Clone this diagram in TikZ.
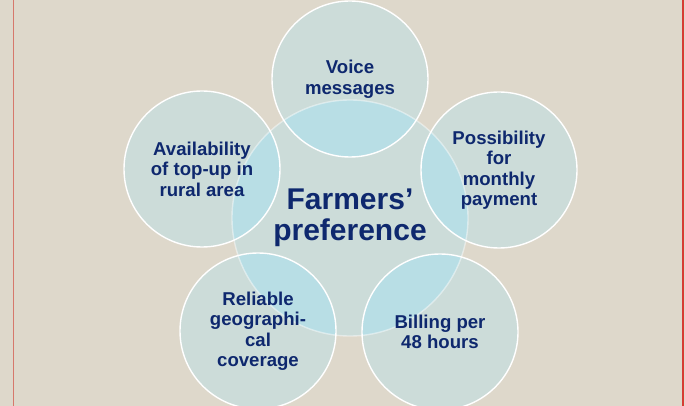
\documentclass[tikz,border=0pt]{standalone}
\usepackage{fontspec}
\setmainfont{Liberation Sans}
\usepackage{xcolor}
\usepackage{tikz}

\definecolor{paper}{RGB}{222,216,203}
\definecolor{petalgrey}{RGB}{204,220,217}
\definecolor{petalblue}{RGB}{184,222,229}
\definecolor{inknavy}{RGB}{14,40,110}
\definecolor{rulepink}{RGB}{214,120,108}
\definecolor{rulered}{RGB}{214,60,52}

\begin{document}
\begin{tikzpicture}[
  x=1pt, y=-1pt,
  petal_node/.style={circle, minimum size=156pt, draw=white, line width=1.4pt, text=inknavy, font=\bfseries\fontsize{18.6}{20.5}\selectfont, align=center},
  hub_node/.style={circle, minimum size=236pt, draw=white, draw opacity=0.45, line width=1.4pt, text=inknavy, font=\bfseries\fontsize{30}{31}\selectfont, align=center},
  single_fill/.style={fill=petalgrey},
  overlap_fill/.style={fill=petalblue}
]

  % Page background and margin rules
  \useasboundingbox (0,0) rectangle (685,406);
  \fill[paper] (0,0) rectangle (685,406);
  \draw[rulepink, line width=1pt] (13,0) -- (13,406);
  \draw[rulered, line width=1.2pt] (683,0) -- (683,406);

  % Circle centres
  \coordinate (c_hub) at (350,218);
  \coordinate (c_voice) at (350,79);
  \coordinate (c_topup) at (202,169);
  \coordinate (c_monthly) at (499,170);
  \coordinate (c_coverage) at (258,331);
  \coordinate (c_billing) at (440,332);

  % Fills: plain discs, then the parts shared with the hub
  \fill[single_fill] (c_hub) circle (118pt);
  \foreach \c in {c_voice, c_topup, c_monthly, c_coverage, c_billing}
    \fill[single_fill] (\c) circle (78pt);
  \begin{scope}
    \clip (c_hub) circle (118pt);
    \foreach \c in {c_voice, c_topup, c_monthly, c_coverage, c_billing}
      \fill[overlap_fill] (\c) circle (78pt);
  \end{scope}

  % HUB
  \node (pref) [hub_node] at (c_hub) {Farmers’\\preference};

  % PETALS
  \node (voice) [petal_node] at (c_voice) {Voice\\messages};
  \node (topup) [petal_node] at (c_topup) {Availability\\of top-up in\\rural area};
  \node (monthly) [petal_node] at (c_monthly) {Possibility\\for\\monthly\\payment};
  \node (coverage) [petal_node] at (c_coverage) {Reliable\\geographi-\\cal\\coverage};
  \node (billing) [petal_node] at (c_billing) {Billing per\\48 hours};

\end{tikzpicture}
\end{document}
